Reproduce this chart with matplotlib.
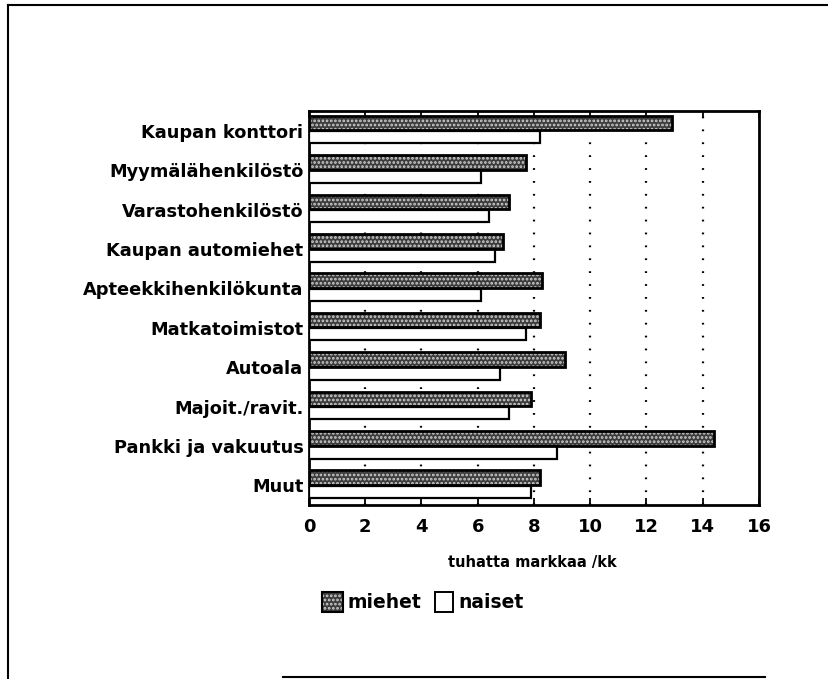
import matplotlib
matplotlib.use("Agg")
import matplotlib.pyplot as plt
from matplotlib.patches import Rectangle
import numpy as np

categories = ["Kaupan konttori", "Myymälähenkilöstö", "Varastohenkilöstö",
              "Kaupan automiehet", "Apteekkihenkilökunta", "Matkatoimistot",
              "Autoala", "Majoit./ravit.", "Pankki ja vakuutus", "Muut"]
miehet = [12.9, 7.7, 7.1, 6.9, 8.3, 8.2, 9.1, 7.9, 14.4, 8.2]
naiset = [8.2, 6.1, 6.4, 6.6, 6.1, 7.7, 6.8, 7.1, 8.8, 7.9]
xticks = [0, 2, 4, 6, 8, 10, 12, 14, 16]
xlabel = "tuhatta markkaa /kk"
legend_labels = ["miehet", "naiset"]

plt.rcParams['font.family'] = ['DejaVu Sans']
plt.rcParams['font.weight'] = 'bold'
plt.rcParams['hatch.linewidth'] = 1.3

W, H = 829, 679
fig = plt.figure(figsize=(W/100, H/100), dpi=100)

# outer frame
fig.add_artist(plt.Line2D([8/W, 8/W], [1-5/H, 1-679/H], color='black', lw=1.5, transform=fig.transFigure))
fig.add_artist(plt.Line2D([8/W, 1.0], [1-5/H, 1-5/H], color='black', lw=1.5, transform=fig.transFigure))
fig.add_artist(plt.Line2D([283/W, 765/W], [1-677/H, 1-677/H], color='black', lw=1.5, transform=fig.transFigure))

left, right, top, bottom = 309, 759, 111, 505
ax = fig.add_axes([left/W, 1-bottom/H, (right-left)/W, (bottom-top)/H])

n = len(categories)
y = np.arange(n)
bh = 0.37
ym = y - bh/2 - 0.01
yn = y + bh/2 - 0.02
# dotted bars (men): dark fill with light dot texture + black outline
ax.barh(ym, miehet, height=bh, color='#3c3c3c', edgecolor='#d0d0d0', hatch='....', lw=0, zorder=3)
ax.barh(ym, miehet, height=bh, fill=False, edgecolor='black', lw=2.0, zorder=4)
ax.barh(yn, naiset, height=bh*0.85, color='white', edgecolor='black', lw=1.6, zorder=3)

ax.set_ylim(n - 0.5, -0.5)
ax.set_xlim(0, 16)
ax.set_yticks(y)
ax.set_yticklabels(categories, fontsize=12.8, fontweight='bold')
ax.set_xticks(xticks)
ax.set_xticklabels([str(t) for t in xticks], fontsize=13, fontweight='bold')
ax.tick_params(axis='x', direction='in', length=5, width=1.3, top=True, pad=9)
ax.tick_params(axis='y', length=0, pad=4)
for t in xticks[1:-1]:
    ax.axvline(t, color='black', lw=1.6, ls=(0, (0.8, 5)), zorder=1)
for s in ax.spines.values():
    s.set_linewidth(2.0)

fig.text(532/W, 1-563/H, xlabel, fontsize=10.5, fontweight='bold', ha='center', va='center')

# legend
ly = 602
fig.add_artist(Rectangle((322/W, 1-612/H), 21/W, 20/H, transform=fig.transFigure,
                         facecolor='#3c3c3c', edgecolor='#d0d0d0', hatch='....', lw=0))
fig.add_artist(Rectangle((322/W, 1-612/H), 21/W, 20/H, transform=fig.transFigure,
                         fill=False, edgecolor='black', lw=1.5))
fig.text(348/W, 1-ly/H, legend_labels[0], fontsize=13.5, fontweight='bold', va='center', ha='left')
fig.add_artist(Rectangle((435/W, 1-612/H), 18/W, 20/H, transform=fig.transFigure,
                         facecolor='white', edgecolor='black', lw=1.4))
fig.text(458/W, 1-ly/H, legend_labels[1], fontsize=13.5, fontweight='bold', va='center', ha='left')

fig.savefig("out.png", dpi=100)
